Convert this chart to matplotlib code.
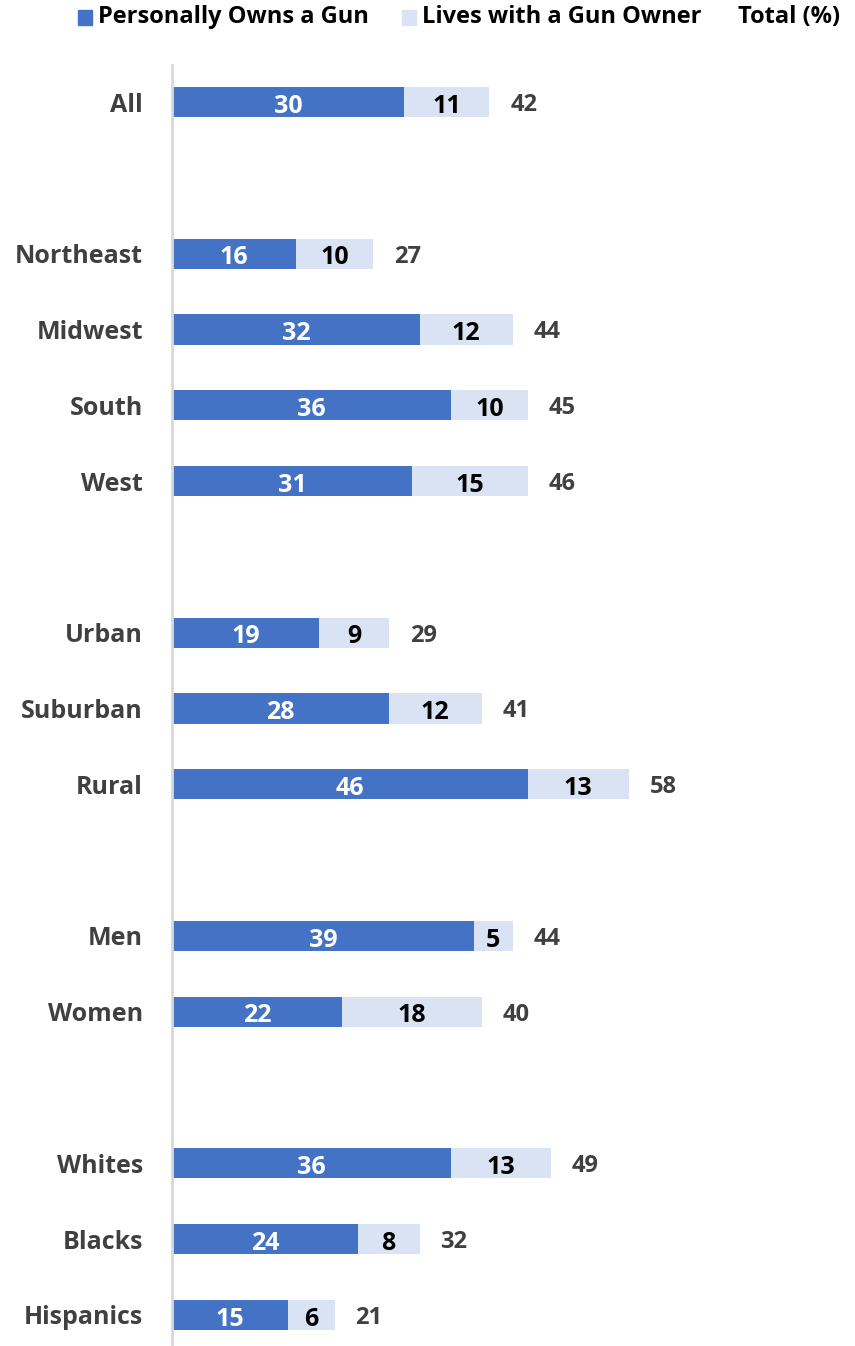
import matplotlib
matplotlib.use("Agg")
import matplotlib.pyplot as plt
from matplotlib.patches import Rectangle
from matplotlib import font_manager

# --- data -------------------------------------------------------------
groups = ["All", "", "Northeast", "Midwest", "South", "West", "",
          "Urban", "Suburban", "Rural", "", "Men", "Women", "",
          "Whites", "Blacks", "Hispanics"]
owns = [30, None, 16, 32, 36, 31, None, 19, 28, 46, None, 39, 22, None, 36, 24, 15]
lives = [11, None, 10, 12, 10, 15, None, 9, 12, 13, None, 5, 18, None, 13, 8, 6]
total = [42, None, 27, 44, 45, 46, None, 29, 41, 58, None, 44, 40, None, 49, 32, 21]

BLUE = "#4472C4"
LIGHT = "#DAE3F3"
GRAY = "#404040"

names = {f.name for f in font_manager.fontManager.ttflist}
FONT = "Liberation Sans Narrow" if "Liberation Sans Narrow" in names else "Open Sans"
plt.rcParams["font.family"] = [FONT, "DejaVu Sans"]
plt.rcParams["font.weight"] = "bold"

fig = plt.figure(figsize=(8.55, 13.46), dpi=100)
ax = fig.add_axes([172 / 855, 0, 1 - 172 / 855, 1 - 65 / 1346])

rows = [i for i, o in enumerate(owns) if o is not None]
ow = [owns[i] for i in rows]
lv = [lives[i] for i in rows]
tt = [total[i] for i in rows]

b1 = ax.barh(rows, ow, height=0.4, color=BLUE, linewidth=0)
b2 = ax.barh(rows, lv, left=ow, height=0.4, color=LIGHT, linewidth=0)
inner = ax.bar_label(b1, labels=[str(v) for v in ow], label_type="center",
                     color="white", fontsize=18, fontweight="bold")
inner += ax.bar_label(b2, labels=[str(v) for v in lv], label_type="center",
                      color="black", fontsize=18, fontweight="bold")
for t in inner:
    t.xyann = (0, -3)
tot = ax.bar_label(b2, labels=[str(v) for v in tt], padding=15,
                   color=GRAY, fontsize=17, fontweight="bold")
for t in tot:
    t.xyann = (t.xyann[0], -2)

ax.set_ylim(16.41, -0.49)
ax.set_xlim(0, (855 - 172) / 7.74)
ax.set_yticks(rows)
ax.set_yticklabels([groups[i] for i in rows], fontsize=18, color=GRAY,
                   fontweight="bold")
ax.tick_params(axis="y", length=0, pad=21)
ax.set_xticks([])
for s in ["top", "right", "bottom"]:
    ax.spines[s].set_visible(False)
ax.spines["left"].set_color("#D9D9D9")
ax.spines["left"].set_linewidth(2)

# --- legend drawn across the top -------------------------------------
def key(x, color, text):
    fig.patches.append(Rectangle((x / 855, 1 - 25 / 1346), 14 / 855, 15 / 1346,
                                 transform=fig.transFigure, color=color))
    fig.text((x + 20) / 855, 1 - 17 / 1346, text, fontsize=17,
             fontweight="bold", va="center", ha="left", color="black")

key(78, BLUE, "Personally Owns a Gun")
key(402, LIGHT, "Lives with a Gun Owner")
fig.text(840 / 855, 1 - 17 / 1346, "Total (%)", fontsize=17,
         fontweight="bold", va="center", ha="right", color="black")

fig.savefig("out.png", dpi=100)
